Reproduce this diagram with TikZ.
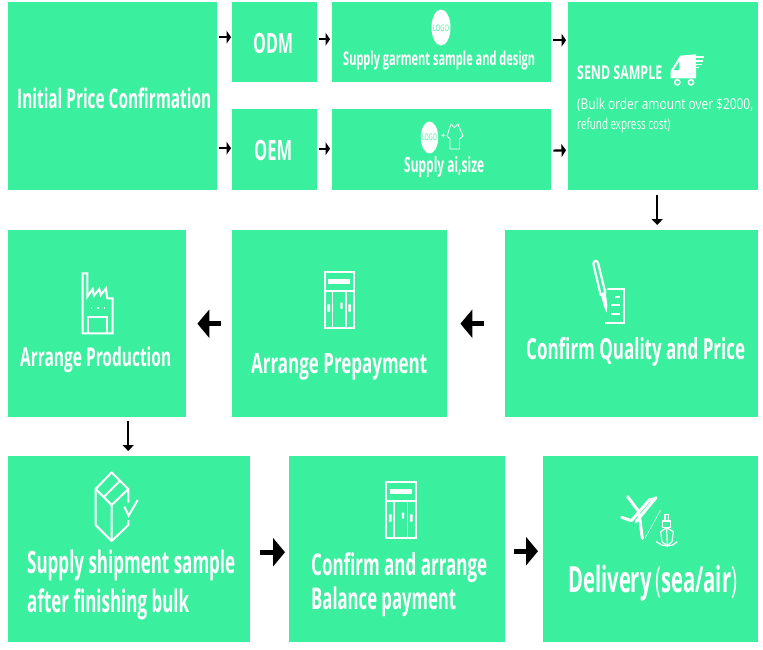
\documentclass[tikz,border=0pt]{standalone}
\usepackage{fontspec}
\usepackage{graphicx}
\setmainfont{Open Sans}
\usetikzlibrary{arrows.meta}
\definecolor{mint}{RGB}{58,239,158}
\newcommand{\lbl}[3]{\fontsize{#2}{#2}\selectfont\resizebox{#1pt}{\height}{#3}}
\tikzset{
  x=1pt,y=-1pt,
  card/.style={fill=mint,draw=none,inner sep=0pt,anchor=north west},
  lab/.style={text=white,inner sep=0pt,anchor=base west},
  smallarr/.style={line width=2.2pt,-{Triangle[length=4.5pt,width=13pt]}},
  downarr/.style={line width=2.2pt,-{Triangle[length=6pt,width=11pt]}},
  bigarr/.style={line width=5pt,-{Triangle[length=12pt,width=28pt]}},
  ico/.style={draw=white,line width=2pt,line join=miter,fill=none},
}
\newcommand{\card}[5]{\node[card,minimum width=#4pt,minimum height=#5pt] (#1) at (#2,#3) {};}
\begin{document}
\begin{tikzpicture}
\useasboundingbox (0,0) rectangle (763,649);
\fill[white] (0,0) rectangle (763,649);
\card{initial}{8}{2}{209}{188}
\card{odm}{232}{2}{85}{80}
\card{oem}{232}{109}{85}{81}
\card{garment}{332}{2}{219}{80}
\card{aisize}{332}{109}{219}{81}
\card{send}{568}{2}{190}{188}
\card{quality}{505}{230}{253}{187}
\card{prepay}{232}{230}{215}{187}
\card{production}{8}{230}{178}{187}
\card{shipment}{8}{456}{242}{186}
\card{balance}{289}{456}{216}{186}
\card{delivery}{543}{456}{215}{186}

\node[lab] (t1) at (17,108.5) {\lbl{194}{27}{\bfseries Initial Price Confirmation}};
\node[lab] (t2) at (253,53.5) {\lbl{40}{28}{\bfseries ODM}};
\node[lab] (t3) at (254,160.5) {\lbl{38}{28}{\bfseries OEM}};
\node[lab] (t4) at (343,65) {\lbl{192}{19}{\bfseries Supply garment sample and design}};
\node[lab] (t5) at (404,172) {\lbl{80}{21}{\bfseries Supply ai,size}};
\node[lab] (t6) at (577,79) {\lbl{85}{19}{\bfseries SEND SAMPLE}};
\node[lab] (t7) at (577,109) {\lbl{176}{15}{(Bulk order amount over \$2000,}};
\node[lab] (t8) at (577,129) {\lbl{93}{15}{refund express cost)}};
\node[lab] (t9) at (526,359.5) {\lbl{219}{29}{\bfseries Confirm Quality and Price}};
\node[lab] (t10) at (251,373.5) {\lbl{176}{28}{\bfseries Arrange Prepayment}};
\node[lab] (t11) at (20,366.5) {\lbl{151}{26}{\bfseries Arrange Production}};
\node[lab] (t12) at (27,573.5) {\lbl{208}{31}{\bfseries Supply shipment sample}};
\node[lab] (t13) at (27,612.5) {\lbl{162}{31}{\bfseries after finishing bulk}};
\node[lab] (t14) at (311,575.5) {\lbl{176}{30}{\bfseries Confirm and arrange}};
\node[lab] (t15) at (311,609.5) {\lbl{145}{30}{\bfseries Balance payment}};
\node[lab] (t16) at (568,592.5) {\lbl{169}{36}{\bfseries Delivery\,{\mdseries(}sea/air{\mdseries)}}};

% connectors
\draw[smallarr,shorten <=2pt,shorten >=1pt] ([yshift=59pt]initial.east) -- ([yshift=5pt]odm.west);
\draw[smallarr,shorten <=2pt,shorten >=1pt] ([yshift=-52pt]initial.east) -- ([yshift=1.5pt]oem.west);
\draw[smallarr,shorten <=2pt,shorten >=2pt] ([yshift=3pt]odm.east) -- ([yshift=3pt]garment.west);
\draw[smallarr,shorten <=2pt,shorten >=2pt] ([yshift=1pt]oem.east) -- ([yshift=1pt]aisize.west);
\draw[smallarr,shorten <=2pt,shorten >=2pt] ([yshift=2pt]garment.east) -- ([yshift=56pt]send.west);
\draw[smallarr,shorten <=2pt,shorten >=2pt] ([yshift=-1pt]aisize.east) -- ([yshift=-54pt]send.west);
\coordinate (d1) at ([xshift=-6pt]send.south);
\draw[downarr,shorten <=5pt,shorten >=5pt] (d1) -- (d1 |- quality.north);
\draw[bigarr,shorten <=21pt,shorten >=13pt] (quality.west) -- (prepay.east);
\draw[bigarr,shorten <=11pt,shorten >=11pt] (prepay.west) -- (production.east);
\coordinate (d2) at ([xshift=31pt]production.south);
\draw[downarr,shorten <=4pt,shorten >=5pt] (d2) -- (d2 |- shipment.north);
\draw[bigarr,shorten <=10pt,shorten >=4pt] ([yshift=-3pt]shipment.east) -- ([yshift=-3pt]balance.west);
\draw[bigarr,shorten <=9pt,shorten >=5pt] ([yshift=-2pt]balance.east) -- ([yshift=-2pt]delivery.west);

% LOGO 1
\fill[white] (441,27.5) ellipse [x radius=9.5,y radius=18];
\node[inner sep=0pt,text=mint] (logo1) at (441,28) {\lbl{16}{9}{LOGO}};
% LOGO + shirt
\fill[white] (429.5,137.5) ellipse [x radius=8.7,y radius=16];
\node[inner sep=0pt,text=mint] (logo2) at (429.5,137.5) {\lbl{15}{9}{LOGO}};
\node[inner sep=0pt,text=white] (plus) at (443.5,136) {\fontsize{8}{8}\selectfont\bfseries +};
\draw[draw=white,line width=.9pt,line join=round] (451,124) -- (454.5,127.5) -- (458,124) -- (463,136) -- (459.5,139) -- (459.5,149) -- (450,149) -- (450,139) -- (447,136) -- cycle;

% truck
\begin{scope}[shift={(660,45)},x=.3333pt,y=-.3333pt]
\fill[white] (32,100) -- (32,78) -- (60,32) -- (108,28) -- (108,100) -- cycle;
\fill[mint] (41,75) -- (58,49) -- (58,75) -- cycle;
\foreach \yy/\xx in {36/132,48/130,58/126,68/116} \draw[white,line width=1.2pt] (92,\yy) -- (\xx,\yy);
\fill[mint] (108,42) rectangle (132,44) (108,53) rectangle (132,55);
\foreach \cx in {52,93} {\draw[white,line width=1.5pt,fill=mint] (\cx,112) circle (8);}
\end{scope}

% factory
\begin{scope}[shift={(70,265)},x=.3333pt,y=-.3333pt]
\draw[ico] (38,205) -- (38,25) -- (52,25) -- (52,95) -- (68,72) -- (72,92) -- (88,72) -- (92,90) -- (108,70) -- (112,100) -- (128,100) -- (128,205) -- cycle;
\draw[ico] (55,205) -- (55,155) -- (112,155) -- (112,205);
\foreach \xx in {62,82,102} \fill[white] (\xx,127) rectangle (\xx+4,133);
\end{scope}

% door icons
\foreach \ox/\oy in {310/265,371.5/475} {
\begin{scope}[shift={(\ox,\oy)},x=.3333pt,y=-.3333pt]
\draw[ico] (44,22) rectangle (132,188);
\fill[white] (55,43) rectangle (121,58);
\draw[ico] (44,78) -- (132,78);
\draw[draw=white,line width=1.4pt] (68,78) -- (68,188) (108,78) -- (108,188);
\fill[white] (52,118) rectangle (60,140) (115,118) rectangle (123,140) (91,113) rectangle (98,131);
\end{scope}}

% pen and paper
\begin{scope}[shift={(580,250)},x=.3333pt,y=-.3333pt]
\draw[ico,line join=round,line width=2.2pt] (40,42) .. controls (42,28) and (52,30) .. (55,42) -- (76,128) -- (62,135) -- cycle;
\fill[white] (62,132) -- (77,126) -- (82,165) -- (80,188) -- (72,170) -- cycle;
\draw[ico] (80,116) -- (131,116) -- (131,218) -- (76,218);
\draw[draw=white,line width=2pt] (106,141) -- (120,141) (94,166) -- (120,166) (94,192) -- (120,192);
\end{scope}

% parcel
\begin{scope}[shift={(85,465)},x=.3333pt,y=-.3333pt]
\draw[ico,line join=round] (130,113) -- (130,72) -- (80,22) -- (32,72) -- (32,180) -- (80,228) -- (130,180) -- (130,165);
\draw[ico,line join=round] (32,72) -- (80,120) -- (130,72) (80,120) -- (80,228);
\draw[ico] (57,95) -- (105,47);
\draw[ico] (118,125) -- (131,152) -- (158,105);
\end{scope}

% plane and ship
\begin{scope}[shift={(610,485)},x=.3333pt,y=-.3333pt]
\draw[white,line width=3pt,line join=round,line cap=round] (53,35) -- (88,82) (135,41) -- (118,45) -- (64,107) -- (35,97) (138,38) -- (78,110) (88,90) -- (97,160);
\draw[white,line width=.5pt] (152,75) -- (105,160);
\draw[ico,line width=1.2pt] (165,88) rectangle (175,108) (158,108) rectangle (182,128);
\draw[ico,line width=1.2pt,line join=round] (152,140) -- (170,128) -- (190,140) -- (186,170) -- (172,183) -- (156,170) -- cycle;
\draw[ico,line width=1.2pt] (170,128) -- (172,183) (138,170) -- (156,180) -- (172,183) -- (188,180) -- (202,170);
\end{scope}
\end{tikzpicture}
\end{document}
